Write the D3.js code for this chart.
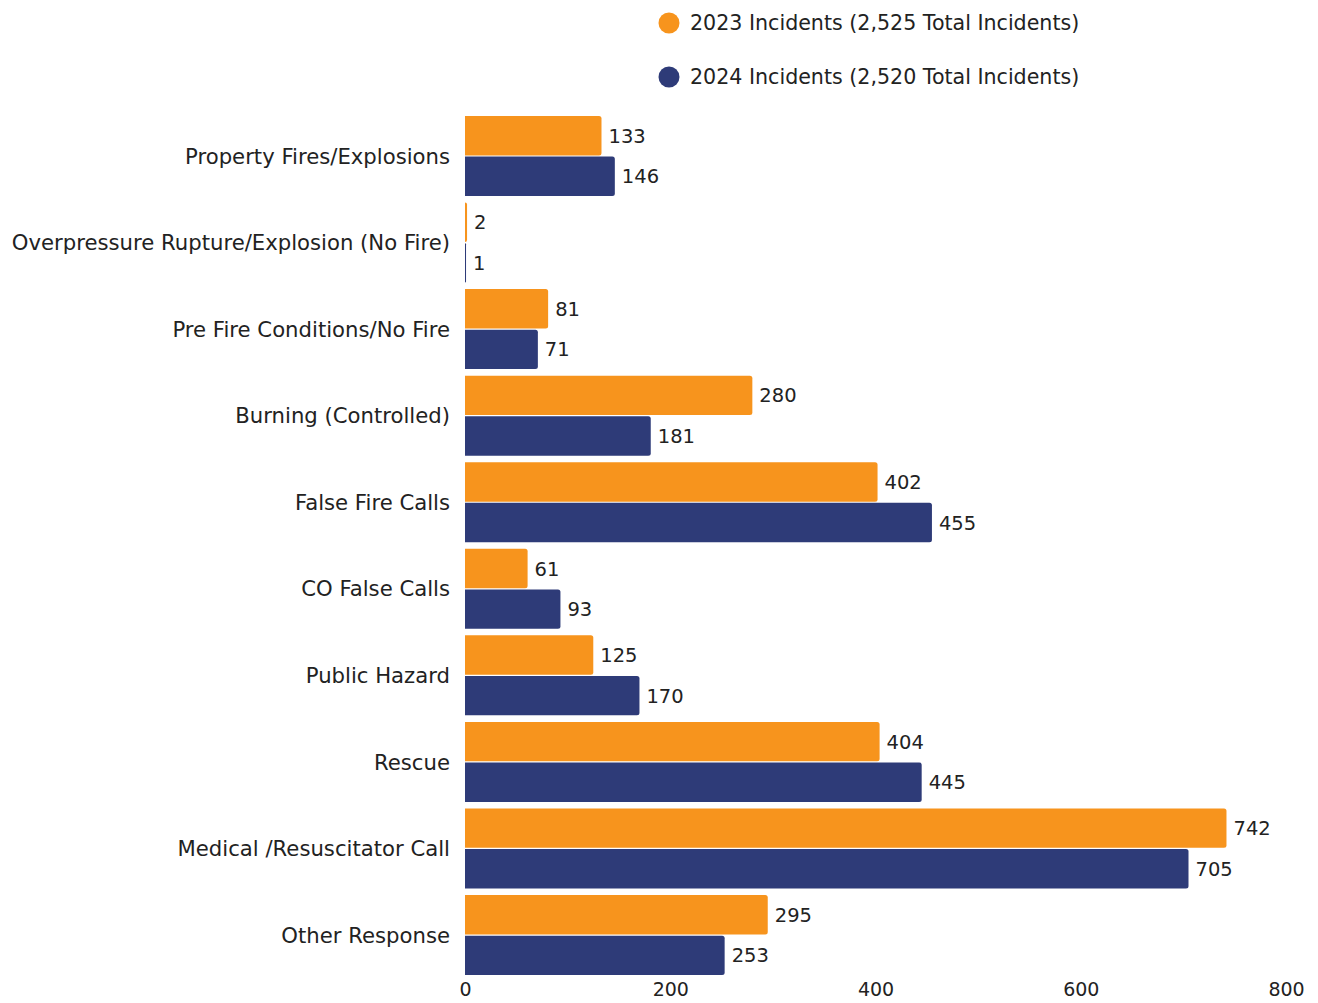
<!DOCTYPE html>
<html><head><meta charset="utf-8">
<script src="https://cdn.jsdelivr.net/npm/d3@7"></script>
<style>
body{margin:0;background:#fff;}
text{font-family:"DejaVu Sans",sans-serif;fill:#222;}
</style></head>
<body>
<svg id="chart" width="1318" height="1003"></svg>
<script>
const categories = ["Property Fires/Explosions","Overpressure Rupture/Explosion (No Fire)","Pre Fire Conditions/No Fire","Burning (Controlled)","False Fire Calls","CO False Calls","Public Hazard","Rescue","Medical /Resuscitator Call","Other Response"];
const series = ["2023 Incidents (2,525 Total Incidents)","2024 Incidents (2,520 Total Incidents)"];
const values2023 = [133,2,81,280,402,61,125,404,742,295];
const values2024 = [146,1,71,181,455,93,170,445,705,253];
const xTicks = [0,200,400,600,800];
const colors = ["#F7941D","#2E3B78"];

const svg = d3.select("#chart");
const x = d3.scaleLinear().domain([0,800]).range([465,1286]);
const y0 = d3.scaleBand().domain(categories).range([112.7,978.3]).padding(0);
const y1 = d3.scaleBand().domain(series).range([3.3,83.3]).paddingInner(0.03);

const data = categories.map((c,i)=>({cat:c, vals:[values2023[i],values2024[i]]}));

function barPath(x0,y,w,h,r){
  r=Math.min(r,w);
  return `M${x0},${y}H${x0+w-r}Q${x0+w},${y} ${x0+w},${y+r}V${y+h-r}Q${x0+w},${y+h} ${x0+w-r},${y+h}H${x0}Z`;
}

const g = svg.selectAll("g.cat").data(data).join("g").attr("class","cat")
  .attr("transform",d=>`translate(0,${y0(d.cat)})`);

g.selectAll("path").data(d=>d.vals.map((v,j)=>({v,s:series[j],j})))
  .join("path")
  .attr("d",d=>barPath(x(0),y1(d.s),x(d.v)-x(0),y1.bandwidth(),2.5))
  .attr("fill",d=>colors[d.j]);

g.selectAll("text.val").data(d=>d.vals.map((v,j)=>({v,s:series[j],j})))
  .join("text").attr("class","val")
  .attr("x",d=>x(d.v)+7)
  .attr("y",d=>y1(d.s)+y1.bandwidth()/2)
  .attr("dy","0.36em")
  .attr("font-size",19.5)
  .text(d=>d.v);

svg.selectAll("text.cat").data(categories).join("text").attr("class","cat")
  .attr("x",450).attr("y",d=>y0(d)+y0.bandwidth()/2)
  .attr("dy","0.36em").attr("text-anchor","end").attr("font-size",21.2)
  .text(d=>d);

const xAxis = d3.axisBottom(x).tickValues(xTicks).tickSize(0).tickPadding(0).tickFormat(d3.format("d"));
const ax = svg.append("g").attr("transform","translate(0,982)").call(xAxis);
ax.select(".domain").remove();
ax.selectAll("text").attr("font-size",19).attr("font-family","DejaVu Sans Condensed, sans-serif").attr("fill","#222").attr("dy","0.71em");

const leg = svg.selectAll("g.leg").data(series).join("g").attr("class","leg")
  .attr("transform",(d,i)=>`translate(669,${23+i*54})`);
leg.append("circle").attr("r",10.5).attr("fill",(d,i)=>colors[i]);
leg.append("text").attr("x",21).attr("dy","0.36em").attr("font-size",20.6).text(d=>d);
</script>
</body></html>
